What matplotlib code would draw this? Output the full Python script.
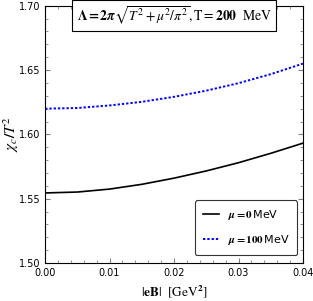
import matplotlib
matplotlib.use("Agg")
import matplotlib.pyplot as plt
import numpy as np
from matplotlib.ticker import MultipleLocator

# data
eB = [0.0, 0.005, 0.01, 0.015, 0.02, 0.025, 0.03, 0.035, 0.04]
chi_mu0 = [1.5545, 1.5552, 1.5575, 1.5612, 1.5660, 1.5716, 1.5780, 1.5853, 1.5932]
chi_mu100 = [1.6200, 1.6205, 1.6225, 1.6253, 1.6292, 1.6340, 1.6398, 1.6468, 1.6550]
labels = [r"$\boldsymbol{\mu = 0}\,$MeV", r"$\boldsymbol{\mu = 100}\,$MeV"]

plt.rcParams['mathtext.fontset'] = 'stix'

fig = plt.figure(figsize=(3.13, 3.01), dpi=100)
ax = fig.add_axes([0.144, 0.126, 0.824, 0.855])

ax.plot(eB, chi_mu0, color='black', lw=1.2, label=labels[0])
ax.plot(eB, chi_mu100, color='blue', lw=1.4, ls=(0, (1.2, 1.0)), label=labels[1])

ax.set_xlim(0, 0.04)
ax.set_ylim(1.50, 1.70)
ax.xaxis.set_major_locator(MultipleLocator(0.01))
ax.xaxis.set_minor_locator(MultipleLocator(0.002))
ax.yaxis.set_major_locator(MultipleLocator(0.05))
ax.yaxis.set_minor_locator(MultipleLocator(0.01))
ax.xaxis.set_major_formatter(plt.FormatStrFormatter('%.2f'))
ax.yaxis.set_major_formatter(plt.FormatStrFormatter('%.2f'))
ax.tick_params(which='both', direction='in', top=True, right=True, labelsize=7, color='gray')
ax.tick_params(which='major', length=3.5)
ax.tick_params(which='minor', length=2)

ax.set_xlabel(r"$|\mathbf{eB}|\ \ [\mathrm{GeV}^{\mathbf{2}}]$", fontsize=9.5)
ax.set_ylabel(r"$\boldsymbol{\chi_c/T^2}$", fontsize=11)
ax.yaxis.set_label_coords(-0.095, 0.5)

ax.text(0.5, 0.962, r"$\boldsymbol{\Lambda = 2\pi\sqrt{T^2+\mu^2/\pi^2}}, \mathrm{T} = \mathbf{200}\ \ \mathrm{MeV}$",
        transform=ax.transAxes, ha='center', va='center', fontsize=9.8,
        bbox=dict(boxstyle='square,pad=0.3', fc='white', ec='black', lw=0.8))

leg = ax.legend(loc='lower right', fontsize=8, frameon=True, fancybox=True,
                edgecolor='black', handlelength=1.5, borderpad=0.7, labelspacing=1.0,
                bbox_to_anchor=(1.0, 0.01))
leg.get_frame().set_linewidth(0.8)

fig.savefig("out.png", dpi=100)
